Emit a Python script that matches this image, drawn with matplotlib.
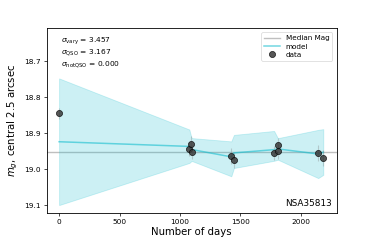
import matplotlib
matplotlib.use("Agg")
import matplotlib.pyplot as plt
import numpy as np

# data points
obs_days = [0, 1077, 1094, 1102, 1424, 1446, 1778, 1809, 1810, 2143, 2185]
obs_mag = [18.845, 18.944, 18.929, 18.953, 18.963, 18.976, 18.955, 18.951, 18.933, 18.955, 18.970]
obs_err = [0.015, 0.02, 0.02, 0.02, 0.022, 0.022, 0.02, 0.02, 0.02, 0.022, 0.022]

# model curve and band
model_days = [0, 1077, 1094, 1102, 1424, 1446, 1778, 1809, 1810, 2143, 2185]
model_mag = [18.924, 18.937, 18.945, 18.946, 18.966, 18.955, 18.946, 18.944, 18.944, 18.958, 18.953]
band_bright = [18.748, 18.890, 18.912, 18.914, 18.923, 18.905, 18.894, 18.914, 18.914, 18.891, 18.889]
band_faint = [19.100, 18.983, 18.978, 18.978, 19.020, 18.997, 18.977, 18.974, 18.974, 19.025, 19.016]

median_mag = 18.953
sigma_labels = [r"$\sigma_{\rm vary}$", r"$\sigma_{\rm QSO}$", r"$\sigma_{\rm notQSO}$"]
sigma_values = [3.457, 3.167, 0.000]
galaxy = "NSA35813"

fig = plt.figure(figsize=(3.74, 2.40), dpi=100)
ax = fig.add_axes([0.1257, 0.1125, 0.7743, 0.7708])

ax.axhline(median_mag, color="grey", alpha=0.5, lw=1.0, label="Median Mag", zorder=1)
ax.fill_between(model_days, band_bright, band_faint, color="C9", alpha=0.22, lw=0.6, zorder=2)
ax.plot(model_days, model_mag, color="C9", alpha=0.6, lw=1.1, label="model", zorder=3)
ax.errorbar(obs_days, obs_mag, yerr=obs_err, fmt="none", ecolor="grey", alpha=0.35, lw=0.8, zorder=4)
ax.plot(obs_days, obs_mag, "o", color="#3a3a3a", mec="black", mew=0.5, ms=4.4, alpha=0.85,
        label="data", zorder=5, ls="none")

ax.set_xlim(-100, 2295)
ax.set_ylim(19.122, 18.608)
ax.set_yticks([18.7, 18.8, 18.9, 19.0, 19.1])
ax.set_xticks([0, 500, 1000, 1500, 2000])
ax.tick_params(labelsize=5.3, length=2.4, width=0.5, pad=2)
for s in ax.spines.values():
    s.set_linewidth(0.6)

ax.set_xlabel("Number of days", fontsize=7.3, labelpad=1.5)
ax.set_ylabel(r"$m_g$, central 2.5 arcsec", fontsize=7.3, labelpad=3)

for i, (lab, val) in enumerate(zip(sigma_labels, sigma_values)):
    ax.text(0.05, 0.93 - i * 0.063, f"{lab} = {val:.3f}", transform=ax.transAxes,
            fontsize=5.4, va="center", ha="left")

ax.text(0.985, 0.05, galaxy, transform=ax.transAxes, fontsize=6.4, ha="right", va="center")

leg = ax.legend(loc="upper right", fontsize=5.2, handlelength=2.2, borderpad=0.4,
                labelspacing=0.3, handletextpad=0.8, borderaxespad=0.6, framealpha=0.8)
leg.get_frame().set_linewidth(0.5)

fig.savefig("out.png", dpi=100)
